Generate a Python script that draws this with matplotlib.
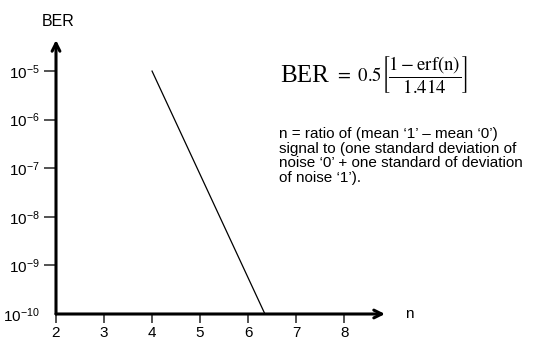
import matplotlib
matplotlib.use("Agg")
import matplotlib.pyplot as plt

plt.rcParams['font.family'] = ['Liberation Sans', 'DejaVu Sans']
plt.rcParams['mathtext.fontset'] = 'custom'
plt.rcParams['mathtext.rm'] = 'Liberation Sans'
plt.rcParams['mathtext.it'] = 'Liberation Sans:italic'

# data
n_vals = [4.0, 6.35]
ber_vals = [1e-5, 1e-10]
x_ticks = [2, 3, 4, 5, 6, 7, 8]
y_ticks = [1e-10, 1e-9, 1e-8, 1e-7, 1e-6, 1e-5]
y_labels = [r'$\mathregular{10^{-10}}$', r'$\mathregular{10^{-9}}$', r'$\mathregular{10^{-8}}$',
            r'$\mathregular{10^{-7}}$', r'$\mathregular{10^{-6}}$', r'$\mathregular{10^{-5}}$']
note = ("n = ratio of (mean \u20181\u2019 \u2013 mean \u20180\u2019)\n"
        "signal to (one standard deviation of\n"
        "noise \u20180\u2019 + one standard of deviation\n"
        "of noise \u20181\u2019).")

W, H = 536, 343
fig = plt.figure(figsize=(W / 100, H / 100), dpi=100)
ax = fig.add_axes([56 / W, (H - 314) / H, (385 - 56) / W, (314 - 40) / H])
ax.semilogy(n_vals, ber_vals, color='black', lw=0.9)

ax.set_xlim(2, 8.85)
ax.set_ylim(1e-10, 10 ** -4.36)
ax.set_xticks(x_ticks)
ax.set_yticks(y_ticks)
ax.set_yticklabels(y_labels)
ax.minorticks_off()
ax.tick_params(axis='y', direction='out', length=8.5, width=1.3, color='#444444',
               labelsize=11, pad=3)
ax.tick_params(axis='x', direction='out', length=6.5, width=1.3, color='#444444',
               labelsize=11, pad=2)
ax.yaxis.get_major_ticks()[0].tick1line.set_visible(False)

for s in ax.spines.values():
    s.set_visible(False)

# axis arrows
ax.annotate('', xy=(0, 1), xytext=(0, 0), xycoords='axes fraction',
            arrowprops=dict(arrowstyle='->', lw=2.2, color='black',
                            mutation_scale=14, shrinkA=0, shrinkB=0))
ax.annotate('', xy=(1, 0), xytext=(0, 0), xycoords='axes fraction',
            arrowprops=dict(arrowstyle='->', lw=2.2, color='black',
                            mutation_scale=14, shrinkA=0, shrinkB=0))

fig.text(58 / W, 1 - 21 / H, 'BER', ha='center', va='center', fontsize=11.5)
fig.text(405 / W, 1 - 314 / H, 'n', ha='left', va='center', fontsize=11)

# formula
fig.text(280 / W, 1 - 82 / H, 'BER', ha='left', va='baseline', fontsize=18,
         family='Liberation Serif')
fig.text(335 / W, 1 - 75 / H,
         r'$=\ 0.5\left[\dfrac{1-\mathrm{erf(n)}}{1.414}\right]$',
         ha='left', va='center', fontsize=13.5, math_fontfamily='stix')

fig.text(279 / W, 1 - 127 / H, note, ha='left', va='top', fontsize=11,
         linespacing=1.05)

fig.savefig('out.png', dpi=100)
